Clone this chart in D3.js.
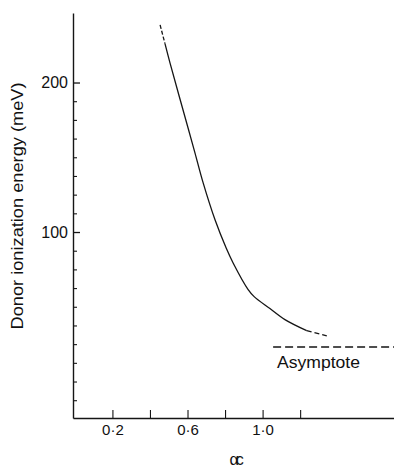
<!DOCTYPE html>
<html>
<head>
<meta charset="utf-8">
<script src="https://cdn.jsdelivr.net/npm/d3@7"></script>
<style>
  html, body { margin: 0; padding: 0; background: #fff; }
  svg { display: block; }
  text { font-family: "Liberation Sans", Arial, sans-serif; fill: #111; }
</style>
</head>
<body>
<svg id="chart" width="394" height="467"></svg>
<script>
// ---- data ----
const curveX = [0.454, 0.480, 0.507, 0.603, 0.640, 0.683, 0.747, 0.806, 0.843, 0.923, 0.955, 1.039, 1.119, 1.235, 1.342];
const curveY = [238.5, 226.0, 213.0, 169.6, 152.8, 133.0, 108.0, 89.3, 79.3, 61.5, 56.8, 48.8, 41.4, 34.0, 30.5];
const asymptoteX = [1.056, 1.70];
const asymptoteY = 23.1;
const xTickValues = [0.2, 0.4, 0.6, 0.8, 1.0, 1.2];
const xTickLabels = ["0·2", "", "0·6", "", "1·0", ""];
const yMajorTicks = [100, 200];
const yMajorLabels = ["100", "200"];
const yMinorTicks = [-12.5, 0, 12.5, 25, 37.5, 50, 62.5, 75, 87.5, 112.5, 125, 137.5, 150, 162.5, 175, 187.5];
const xLabel = "αc";
const yLabel = "Donor ionization energy (meV)";
const asymptoteLabel = "Asymptote";

// ---- layout ----
const svg = d3.select("#chart");
const x = d3.scaleLinear().domain([-0.01, 1.70]).range([73, 394]);
const y = d3.scaleLinear().domain([-24.4, 246.5]).range([418, 13]);
const ink = "#151515";

// x axis (ticks pointing up, inside)
const xAxis = d3.axisBottom(x)
  .tickValues(xTickValues)
  .tickFormat((d, i) => xTickLabels[i])
  .tickSizeInner(-8).tickSizeOuter(0).tickPadding(6);
const gx = svg.append("g").attr("transform", `translate(0,${y.range()[0]})`).call(xAxis);
gx.select(".domain").attr("stroke", ink).attr("stroke-width", 1.4);
gx.selectAll(".tick line").attr("stroke", ink).attr("stroke-width", 1.1);
gx.selectAll(".tick text").attr("font-size", 15).attr("fill", "#111")
  .attr("font-family", "'Liberation Sans', Arial, sans-serif");

// y axis minor ticks
const yMinor = d3.axisLeft(y).tickValues(yMinorTicks).tickFormat("").tickSizeInner(-4).tickSizeOuter(0);
const gym = svg.append("g").attr("transform", `translate(${x(-0.01)},0)`).call(yMinor);
gym.select(".domain").attr("stroke", ink).attr("stroke-width", 1.4);
gym.selectAll(".tick line").attr("stroke", ink).attr("stroke-width", 1.1);

// y axis major ticks + labels
const yMajor = d3.axisLeft(y).tickValues(yMajorTicks)
  .tickFormat((d, i) => yMajorLabels[i]).tickSizeInner(-7).tickSizeOuter(0).tickPadding(5);
const gy = svg.append("g").attr("transform", `translate(${x(-0.01)},0)`).call(yMajor);
gy.select(".domain").remove();
gy.selectAll(".tick line").attr("stroke", ink).attr("stroke-width", 1.3);
gy.selectAll(".tick text").attr("font-size", 16).attr("fill", "#111")
  .attr("font-family", "'Liberation Sans', Arial, sans-serif");

// curve: dashed start, solid middle, dashed end
const pts = curveX.map((v, i) => [v, curveY[i]]);
const line = d3.line().x(d => x(d[0])).y(d => y(d[1])).curve(d3.curveCatmullRom.alpha(0.5));
const segs = [
  { data: pts.slice(0, 2), dash: "4,2" },
  { data: pts.slice(1, 14), dash: null },
  { data: pts.slice(13), dash: "5,3" }
];
segs.forEach(s => {
  svg.append("path").datum(s.data).attr("d", line)
    .attr("fill", "none").attr("stroke", ink).attr("stroke-width", 1.3)
    .attr("stroke-dasharray", s.dash);
});

// asymptote
svg.append("line")
  .attr("x1", x(asymptoteX[0])).attr("x2", x(asymptoteX[1]))
  .attr("y1", y(asymptoteY)).attr("y2", y(asymptoteY))
  .attr("stroke", ink).attr("stroke-width", 1.4).attr("stroke-dasharray", "8,4");

svg.append("text").text(asymptoteLabel)
  .attr("x", 277).attr("y", y(asymptoteY) + 21)
  .attr("font-size", 17).attr("textLength", 83).attr("lengthAdjust", "spacingAndGlyphs");

// axis labels
svg.append("text").text(xLabel)
  .attr("x", 235).attr("y", 465).attr("text-anchor", "middle")
  .attr("font-size", 16).attr("letter-spacing", -3);

svg.append("text").text(yLabel)
  .attr("transform", "translate(23,206) rotate(-90)")
  .attr("text-anchor", "middle")
  .attr("font-size", 17).attr("textLength", 247).attr("lengthAdjust", "spacingAndGlyphs");
</script>
</body>
</html>
